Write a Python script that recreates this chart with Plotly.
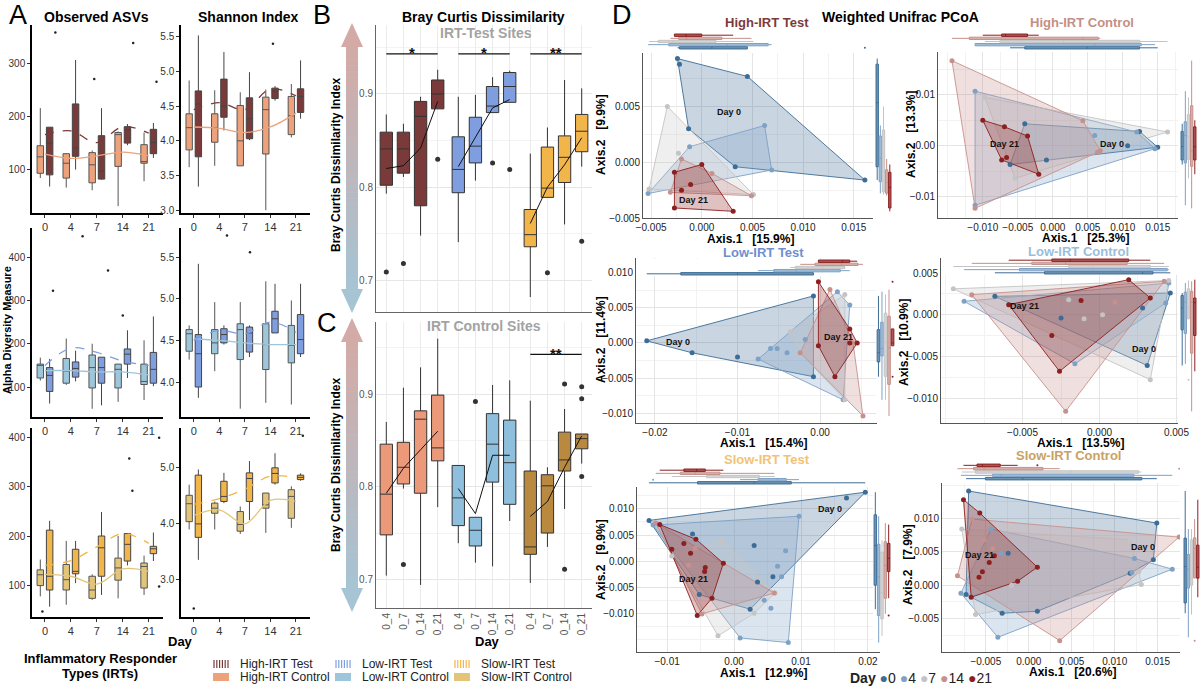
import plotly.graph_objects as go

W, H = 1200, 689
FONT = 'Liberation Sans'

# ---------------- panel A : alpha diversity (box stats) ----------------
days = ['0', '4', '7', '14', '21']

obs_high_ctrl = dict(q1=[92, 83, 74, 105, 111], med=[123, 111, 108, 165, 114], q3=[144, 129, 131, 169, 146],
                     lo=[83, 65, 60, 30, 77], hi=[215, 130, 135, 171, 169])
obs_high_test = dict(q1=[89, 124, 81, 149, 129], med=[149, 140, 96, 174, 150], q3=[179, 223, 163, 180, 175],
                     lo=[67, 99, 80, 145, 121], hi=[179, 306, 215, 185, 187])
sha_high_ctrl = dict(q1=[3.87, 3.98, 3.64, 3.81, 4.09], med=[4.19, 4.19, 4.0, 4.45, 4.36], q3=[4.39, 4.39, 4.51, 4.63, 4.64],
                     lo=[3.62, 3.64, 3.64, 3.0, 4.05], hi=[4.87, 4.73, 4.7, 4.74, 4.82])
sha_high_test = dict(q1=[3.77, 4.34, 4.03, 4.61, 4.41], med=[4.53, 4.5, 4.32, 4.72, 4.64], q3=[4.72, 4.89, 4.62, 4.76, 4.75],
                     lo=[3.34, 4.15, 4.01, 4.58, 4.32], hi=[5.52, 5.28, 4.99, 4.79, 5.16])
obs_low_ctrl = dict(q1=[121, 109, 98, 98, 106], med=[150, 137, 145, 141, 113], q3=[153, 166, 174, 153, 153],
                    lo=[115, 105, 50, 66, 70], hi=[168, 212, 200, 153, 208])
obs_low_test = dict(q1=[90, 123, 109, 153, 109], med=[127, 143, 145, 176, 141], q3=[145, 158, 169, 188, 180],
                    lo=[62, 113, 58, 121, 102], hi=[165, 184, 169, 231, 263])
sha_low_ctrl = dict(q1=[4.37, 4.34, 4.27, 4.15, 4.23], med=[4.58, 4.47, 4.63, 4.45, 4.44], q3=[4.63, 4.63, 4.70, 4.70, 4.68],
                    lo=[4.27, 4.13, 3.68, 3.75, 3.73], hi=[4.68, 4.96, 4.96, 5.21, 4.98])
sha_low_test = dict(q1=[3.94, 4.47, 4.36, 4.59, 4.34], med=[4.34, 4.57, 4.59, 4.76, 4.51], q3=[4.57, 4.64, 4.66, 4.85, 4.81],
                    lo=[3.81, 4.45, 4.30, 4.59, 4.3], hi=[5.42, 4.68, 4.68, 5.18, 5.18])
obs_slow_ctrl = dict(q1=[99, 90, 73, 110, 94], med=[121, 111, 90, 135, 138], q3=[131, 142, 118, 155, 145],
                     lo=[77, 60, 70, 73, 80], hi=[152, 190, 122, 200, 160])
obs_slow_test = dict(q1=[90, 123, 118, 149, 164], med=[118, 128, 176, 183, 174], q3=[212, 173, 200, 205, 179],
                     lo=[56, 104, 80, 140, 149], hi=[231, 190, 249, 205, 207])
sha_slow_ctrl = dict(q1=[4.04, 4.19, 3.87, 4.28, 4.10], med=[4.36, 4.28, 3.99, 4.34, 4.49], q3=[4.51, 4.37, 4.22, 4.55, 4.61],
                     lo=[3.90, 3.90, 3.82, 3.84, 3.93], hi=[4.70, 4.40, 4.31, 4.55, 4.67])
sha_slow_test = dict(q1=[3.76, 4.40, 4.40, 4.73, 4.79], med=[4.0, 4.49, 4.81, 4.90, 4.83], q3=[4.87, 4.76, 4.91, 5.0, 4.87],
                     lo=[3.36, 4.37, 4.07, 4.70, 4.77], hi=[4.97, 4.91, 5.12, 5.26, 4.9])

# smoothed trends (control solid, test dashed)
trend_obs_high = ([128, 120, 125, 132, 125], [165, 172, 150, 180, 168])
trend_sha_high = ([4.2, 4.18, 4.12, 4.2, 4.4], [4.45, 4.55, 4.45, 4.75, 4.65])
trend_obs_low = ([138, 138, 135, 135, 128], [150, 190, 180, 160, 150])
trend_sha_low = ([4.52, 4.5, 4.47, 4.45, 4.45], [4.5, 4.62, 4.58, 4.72, 4.6])
trend_obs_slow = ([122, 118, 102, 133, 128], [140, 150, 178, 205, 185])
trend_sha_slow = ([4.15, 4.25, 4.0, 4.42, 4.4], [4.35, 4.45, 4.62, 4.85, 4.82])

# far points (day position, value)
pts_obs_high = ([0.4, 1.9, 3.4, 4.3], [358, 270, 338, 265])
pts_sha_high = ([3.1], [5.4])
pts_obs_low = ([1.45, 2.43, 0.31, 3.0], [448, 369, 322, 265])
pts_sha_low = ([1.3, 2.2], [5.76, 5.56])
pts_obs_slow = ([-0.1, 3.25, 3.37, 4.4, 4.4], [46, 358, 292, 400, 97])
pts_sha_slow = ([0.0, 4.27], [2.49, 5.57])

# ---------------- panels B / C : Bray Curtis ----------------
bc_labels = ['0_4', '0_7', '0_14', '0_21']

bc_high_test = dict(q1=[0.802, 0.815, 0.780, 0.884], med=[0.841, 0.841, 0.876, 0.900], q3=[0.859, 0.859, 0.892, 0.915],
                    lo=[0.793, 0.811, 0.748, 0.884], hi=[0.878, 0.868, 0.897, 0.926], trend=[0.820, 0.823, 0.842, 0.892])
bc_low_test = dict(q1=[0.794, 0.826, 0.880, 0.891], med=[0.819, 0.844, 0.887, 0.908], q3=[0.854, 0.875, 0.908, 0.923],
                   lo=[0.741, 0.807, 0.880, 0.891], hi=[0.897, 0.899, 0.918, 0.925], trend=[0.822, 0.853, 0.885, 0.894])
bc_slow_test = dict(q1=[0.736, 0.789, 0.805, 0.838], med=[0.749, 0.799, 0.832, 0.860], q3=[0.776, 0.843, 0.855, 0.878],
                    lo=[0.682, 0.789, 0.760, 0.822], hi=[0.836, 0.864, 0.915, 0.906], trend=[0.761, 0.800, 0.824, 0.853])
bc_high_ctrl = dict(q1=[0.748, 0.803, 0.793, 0.828], med=[0.792, 0.821, 0.873, 0.842], q3=[0.846, 0.848, 0.882, 0.899],
                    lo=[0.704, 0.798, 0.694, 0.778], hi=[0.870, 0.907, 0.929, 0.960], trend=[0.793, 0.820, 0.840, 0.860])
bc_low_ctrl = dict(q1=[0.758, 0.736, 0.805, 0.781], med=[0.788, 0.753, 0.846, 0.826], q3=[0.823, 0.767, 0.879, 0.872],
                   lo=[0.739, 0.718, 0.714, 0.763], hi=[0.823, 0.767, 0.910, 0.915], trend=[0.798, 0.771, 0.834, 0.834])
bc_slow_ctrl = dict(q1=[0.727, 0.750, 0.817, 0.841], med=[0.735, 0.801, 0.829, 0.852], q3=[0.817, 0.813, 0.859, 0.857],
                    lo=[0.696, 0.735, 0.776, 0.825], hi=[0.893, 0.821, 0.884, 0.857], trend=[0.768, 0.784, 0.821, 0.855])

# outliers: (index in group, value)
bc_out_test = [([0, 1, 3], [0.709, 0.718, 0.830]), ([2, 3], [0.826, 0.819]), ([1, 3], [0.708, 0.742])]
bc_out_ctrl = [([1], [0.716]), ([1], [0.892]), ([2, 2, 3, 3, 3], [0.711, 0.911, 0.908, 0.895, 0.811])]

# ---------------- panel D : weighted unifrac PCoA (per day: 0, 4, 7, 14, 21) ----------------
pcoa_days = ['0', '4', '7', '14', '21']

ht_x = [[-0.0024, -0.0022, 0.0045, 0.0161, 0.0033, -0.0013],
        [-0.0053, -0.0012, 0.0062, 0.0069],
        [-0.0034, -0.0052, 0.0051, -0.0023],
        [-0.0020, -0.0031, 0.0049, 0.0010, -0.0015],
        [-0.0027, 0.0000, 0.0031, -0.0027, -0.0011, -0.0020]]
ht_y = [[0.0093, 0.0088, 0.0077, -0.0016, -0.0004, 0.0030],
        [-0.0028, 0.0014, 0.0033, -0.0007],
        [0.0050, -0.0024, -0.0029, 0.0008],
        [0.0003, -0.0027, -0.0030, -0.0010, -0.0018],
        [-0.0009, -0.0002, -0.0044, -0.0041, -0.0020, -0.0025]]

hc_x = [[-0.0040, 0.0124, 0.0150, -0.0009, -0.0061, 0.0107],
        [-0.0111, 0.0146, -0.0111, 0.0120, 0.0060],
        [-0.0097, 0.0164, -0.0054, 0.0085],
        [-0.0144, 0.0043, 0.0064, -0.0111, 0.0068],
        [-0.0100, -0.0069, -0.0036, -0.0020, -0.0073, -0.0066]]
hc_y = [[0.0043, 0.0028, -0.0003, -0.0028, -0.0037, 0.0000],
        [0.0107, -0.0006, -0.0117, 0.0027, 0.0020],
        [0.0095, 0.0027, -0.0064, 0.0010],
        [0.0167, 0.0049, -0.0013, -0.0123, -0.0010],
        [0.0050, 0.0037, 0.0019, -0.0056, -0.0028, -0.0023]]

lt_x = [[-0.0210, -0.0008, -0.0008, -0.0155, -0.0100],
        [-0.0075, 0.0021, 0.0036, 0.0028, -0.0060, -0.0052, -0.0040, -0.0018],
        [-0.0036, 0.0030, 0.0030, -0.0024],
        [-0.0024, 0.0012, 0.0052, 0.0040],
        [-0.0002, 0.0045, 0.0018, -0.0002, 0.0036, 0.0036]]
lt_y = [[0.0003, 0.0067, -0.0048, -0.0014, -0.0020],
        [-0.0023, 0.0073, 0.0054, -0.0081, -0.0008, -0.0008, -0.0014, 0.0005],
        [0.0016, 0.0069, -0.0081, -0.0014],
        [-0.0014, 0.0076, -0.0104, 0.0000],
        [0.0087, 0.0000, -0.0048, -0.0004, 0.0020, 0.0000]]

lc_x = [[-0.0068, 0.0046, 0.0031, -0.0025, 0.0028],
        [-0.0088, 0.0045, 0.0043, -0.0016],
        [-0.0095, 0.0045, 0.0033, -0.0020, -0.0010, 0.0002],
        [-0.0083, 0.0042, -0.0022, -0.0031, 0.0010],
        [-0.0059, 0.0019, 0.0033, -0.0026, -0.0012, -0.0031]]
lc_y = [[0.0022, 0.0026, -0.0061, -0.0004, 0.0008],
        [0.0016, 0.0038, 0.0014, -0.0059],
        [0.0031, 0.0041, -0.0078, 0.0018, -0.0005, 0.0000],
        [0.0024, 0.0040, -0.0116, -0.0023, 0.0015],
        [0.0012, 0.0042, 0.0020, -0.0068, 0.0017, -0.0025]]

st_x = [[-0.0127, 0.0196, 0.0024, -0.0052, 0.0168, 0.0058, 0.0035, 0.0030, -0.0062],
        [-0.0121, 0.0097, 0.0081, 0.0009, 0.0077, 0.0065, 0.0071, 0.0055, 0.0045],
        [-0.0093, -0.0018, 0.0061, -0.0024, 0.0030],
        [-0.0117, -0.0058, 0.0060, -0.0048, -0.0068],
        [-0.0111, -0.0057, -0.0016, -0.0033, -0.0055, -0.0093, -0.0075, -0.0043, -0.0044, -0.0065]]
st_y = [[0.0078, 0.0132, -0.0092, -0.0064, 0.0121, -0.0030, -0.0040, 0.0030, 0.0052],
        [0.0069, 0.0086, -0.0156, -0.0147, 0.0020, -0.0010, -0.0030, -0.0090, -0.0075],
        [0.0010, 0.0040, -0.0061, -0.0143, -0.0100],
        [0.0073, 0.0025, -0.0061, -0.0101, -0.0008],
        [0.0070, 0.0042, -0.0004, -0.0071, -0.0104, 0.0023, 0.0034, -0.0012, -0.0020, 0.0015]]

sc_x = [[-0.0070, 0.0149, 0.0145, 0.0010, -0.0031, -0.0073, 0.0118, -0.0024],
        [-0.0079, -0.0044, 0.0167, -0.0036, 0.0120, 0.0123, -0.0032],
        [-0.0078, 0.0118, 0.0131, -0.0062, -0.0020, 0.0128],
        [-0.0083, -0.0066, 0.0175, 0.0036, -0.0052, -0.0042, -0.0059],
        [-0.0076, -0.0057, 0.0010, -0.0013, -0.0067, -0.0040, -0.0046, -0.0054, -0.0058]]
sc_y = [[0.0141, 0.0093, 0.0038, -0.0039, -0.0042, -0.0014, 0.0018, 0.0048],
        [-0.0012, 0.0084, 0.0024, -0.0078, 0.0019, 0.0040, 0.0048],
        [0.0084, 0.0068, 0.0001, -0.0044, 0.0000, 0.0020],
        [0.0014, 0.0099, 0.0072, -0.0083, 0.0068, 0.0055, 0.0010],
        [0.0128, 0.0108, 0.0027, 0.0006, -0.0018, 0.0044, 0.0034, 0.0020, 0.0012]]

# ---------------- styling ----------------
C_HIGH_TEST = '#7b3a3a'
C_HIGH_CTRL = '#eea27c'
C_LOW_TEST = '#7f9ee0'
C_LOW_CTRL = '#9ec6da'
C_SLOW_TEST = '#f2b54a'
C_SLOW_CTRL = '#e3c57a'
C_BC_HIGH_CTRL = '#eb9978'
C_BC_LOW_CTRL = '#8ebfdc'
C_BC_SLOW_CTRL = '#b8893f'
DAY_COLORS = ['#3d6d96', '#7ea1c6', '#c4c4c4', '#c6918c', '#8c1f1f']
DAY_RGB = [(61, 109, 150), (126, 161, 198), (196, 196, 196), (198, 145, 140), (140, 31, 31)]

fig = go.Figure()
layout_axes = {}
annotations = []
shapes = []


def dx(a, b):
    return [a / W, b / W]


def dy(top, bottom):
    return [1 - bottom / H, 1 - top / H]


def refs(n):
    return ('x' if n == 1 else 'x%d' % n), ('y' if n == 1 else 'y%d' % n)


def add_axes(n, xdom, ydom, xopt, yopt):
    xr, yr = refs(n)
    layout_axes['xaxis' if n == 1 else 'xaxis%d' % n] = dict(domain=dx(*xdom), anchor=yr, automargin=False, **xopt)
    layout_axes['yaxis' if n == 1 else 'yaxis%d' % n] = dict(domain=dy(*ydom), anchor=xr, automargin=False, **yopt)
    return xr, yr


def note(text, px, py, size=12, color='#000', angle=0, xanchor='center', yanchor='middle'):
    annotations.append(dict(text=text, x=px / W, y=1 - py / H, xref='paper', yref='paper', showarrow=False,
                            font=dict(size=size, color=color, family=FONT), textangle=angle,
                            xanchor=xanchor, yanchor=yanchor))


def add_box(stats, pos, fill, line, xr, yr, width):
    fig.add_trace(go.Box(x=pos, q1=stats['q1'], median=stats['med'], q3=stats['q3'],
                         lowerfence=stats['lo'], upperfence=stats['hi'], fillcolor=fill,
                         line=dict(color=line, width=1), whiskerwidth=0, width=width,
                         boxpoints=False, xaxis=xr, yaxis=yr, showlegend=False, hoverinfo='skip'))


def a_x():
    return dict(range=[-0.5, 4.55], tickvals=list(range(5)), ticktext=days, showline=True,
                linecolor='black', linewidth=1.5, ticks='outside', ticklen=3, tickcolor='#333',
                showgrid=False, zeroline=False, tickfont=dict(size=11, color='#333', family=FONT))


def a_y(rng, vals, fmt):
    return dict(range=rng, tickvals=vals, tickformat=fmt, showline=True, linecolor='black', linewidth=1.5,
                ticks='outside', ticklen=3, tickcolor='#333', showgrid=False, zeroline=False,
                tickfont=dict(size=10, color='#333', family=FONT))


# ---------------- panel A ----------------
a_rows = [
    ((25, 213), obs_high_ctrl, obs_high_test, sha_high_ctrl, sha_high_test, C_HIGH_CTRL, C_HIGH_TEST,
     trend_obs_high, trend_sha_high, pts_obs_high, pts_sha_high,
     ([17, 372], [100, 200, 300], 'd'), ([2.96, 5.67], [3.0, 3.5, 4.0, 4.5, 5.0, 5.5], '.1f')),
    ((228, 417), obs_low_ctrl, obs_low_test, sha_low_ctrl, sha_low_test, C_LOW_CTRL, C_LOW_TEST,
     trend_obs_low, trend_sha_low, pts_obs_low, pts_sha_low,
     ([31, 467], [100, 200, 300, 400], 'd'), ([3.58, 5.85], [4.0, 4.5, 5.0, 5.5], '.1f')),
    ((428, 617), obs_slow_ctrl, obs_slow_test, sha_slow_ctrl, sha_slow_test, C_SLOW_CTRL, C_SLOW_TEST,
     trend_obs_slow, trend_sha_slow, pts_obs_slow, pts_sha_slow,
     ([35, 420], [100, 200, 300, 400], 'd'), ([2.34, 5.71], [3.0, 4.0, 5.0], '.1f')),
]

n = 0
for ydom, oc, ot, sc, stt, cc, ct, tro, trs, po, ps, yo, ys in a_rows:
    for col, (ctrl, test, trend, pts, yspec) in enumerate([(oc, ot, tro, po, yo), (sc, stt, trs, ps, ys)]):
        n += 1
        xdom = (32, 163) if col == 0 else (181, 310)
        xr, yr = add_axes(n, xdom, ydom, a_x(), a_y(*yspec))
        idx = list(range(5))
        add_box(ctrl, [i - 0.18 for i in idx], cc, '#555', xr, yr, 0.25)
        add_box(test, [i + 0.18 for i in idx], ct, '#444', xr, yr, 0.25)
        fig.add_trace(go.Scatter(x=idx, y=trend[0], mode='lines', line=dict(color=cc, width=1.3, shape='spline'),
                                 xaxis=xr, yaxis=yr, showlegend=False, hoverinfo='skip'))
        fig.add_trace(go.Scatter(x=idx, y=trend[1], mode='lines',
                                 line=dict(color=ct, width=1.3, dash='dash', shape='spline'),
                                 xaxis=xr, yaxis=yr, showlegend=False, hoverinfo='skip'))
        fig.add_trace(go.Scatter(x=pts[0], y=pts[1], mode='markers', marker=dict(color='#222', size=2.5),
                                 xaxis=xr, yaxis=yr, showlegend=False, hoverinfo='skip'))

# ---------------- panels B and C ----------------
group_offsets = [0, 4.2, 8.4]
bc_pos = [g + i for g in group_offsets for i in range(4)]


def bc_x(show_labels):
    return dict(range=[-0.6, 12.0], tickvals=bc_pos, ticktext=bc_labels * 3, showticklabels=show_labels,
                tickangle=-90, showgrid=True, gridcolor='#ebebeb', showline=True, linecolor='#666',
                zeroline=False, ticks='', tickfont=dict(size=10, color='#555', family=FONT))


def bc_y(rng):
    return dict(range=rng, tick0=0.7, dtick=0.1, tickformat='.1f', showgrid=True, gridcolor='#e6e6e6',
                minor=dict(dtick=0.05, showgrid=True, gridcolor='#f3f3f3'), showline=True, linecolor='#666',
                zeroline=False, ticks='', tickfont=dict(size=10, color='#555', family=FONT))


bc_panels = [
    (7, (25, 312), [0.666, 0.974], False, [bc_high_test, bc_low_test, bc_slow_test],
     [C_HIGH_TEST, C_LOW_TEST, C_SLOW_TEST], bc_out_test, [('*', 0), ('*', 1), ('**', 2)]),
    (8, (322, 608), [0.669, 0.978], True, [bc_high_ctrl, bc_low_ctrl, bc_slow_ctrl],
     [C_BC_HIGH_CTRL, C_BC_LOW_CTRL, C_BC_SLOW_CTRL], bc_out_ctrl, [('**', 2)]),
]

for n, ydom, rng, labels, groups, colors, outs, sig in bc_panels:
    xr, yr = add_axes(n, (376, 592), ydom, bc_x(labels), bc_y(rng))
    for g, (stats, color, out) in enumerate(zip(groups, colors, outs)):
        pos = [group_offsets[g] + i for i in range(4)]
        add_box(stats, pos, color, '#333', xr, yr, 0.72)
        fig.add_trace(go.Scatter(x=pos, y=stats['trend'], mode='lines', line=dict(color='#111', width=1),
                                 xaxis=xr, yaxis=yr, showlegend=False, hoverinfo='skip'))
        fig.add_trace(go.Scatter(x=[group_offsets[g] + i for i in out[0]], y=out[1], mode='markers',
                                 marker=dict(color='#333', size=5), xaxis=xr, yaxis=yr,
                                 showlegend=False, hoverinfo='skip'))
    for star, g in sig:
        x0, x1 = group_offsets[g], group_offsets[g] + 3
        fig.add_trace(go.Scatter(x=[x0, x1], y=[0.943, 0.943], mode='lines', line=dict(color='#111', width=1.3),
                                 xaxis=xr, yaxis=yr, showlegend=False, hoverinfo='skip'))
        annotations.append(dict(text='<b>%s</b>' % star, x=(x0 + x1) / 2, y=0.944, xref=xr, yref=yr,
                                showarrow=False, yanchor='middle', font=dict(size=15, color='#111', family=FONT)))

# gradient arrows beside B and C
ARROW_TOP = (211, 170, 165)
ARROW_BOT = (166, 196, 212)


def mix(t):
    return 'rgb(%d,%d,%d)' % tuple(round(a + (b - a) * t) for a, b in zip(ARROW_TOP, ARROW_BOT))


def arrow(top, bottom, cx=352, half=6, head=24, head_half=11):
    steps = 40
    y0, y1 = top + head, bottom - head
    h = (y1 - y0) / steps
    for i in range(steps):
        ya = y0 + i * h
        shapes.append(dict(type='rect', xref='paper', yref='paper', x0=(cx - half) / W, x1=(cx + half) / W,
                           y0=1 - (ya + h + 0.6) / H, y1=1 - ya / H, fillcolor=mix((i + 0.5) / steps),
                           line=dict(width=0), layer='below'))
    for tip, base, t in ((top, y0, 0.0), (bottom, y1, 1.0)):
        path = 'M %f %f L %f %f L %f %f Z' % (cx / W, 1 - tip / H, (cx - head_half) / W, 1 - base / H,
                                              (cx + head_half) / W, 1 - base / H)
        shapes.append(dict(type='path', xref='paper', yref='paper', path=path, fillcolor=mix(t),
                           line=dict(width=0), layer='below'))


arrow(23, 313)
arrow(318, 612)

# ---------------- panel D ----------------


def hull(xs, ys):
    pts = sorted(set(zip(xs, ys)))
    if len(pts) < 3:
        return pts

    def cross(o, a, b):
        return (a[0] - o[0]) * (b[1] - o[1]) - (a[1] - o[1]) * (b[0] - o[0])

    lower, upper = [], []
    for p in pts:
        while len(lower) >= 2 and cross(lower[-2], lower[-1], p) <= 0:
            lower.pop()
        lower.append(p)
    for p in reversed(pts):
        while len(upper) >= 2 and cross(upper[-2], upper[-1], p) <= 0:
            upper.pop()
        upper.append(p)
    h = lower[:-1] + upper[:-1]
    return h + [h[0]]


pcoa_panels = [
    dict(title='High-IRT Test', tcolor='#7b3b3b', xs=ht_x, ys=ht_y, xr=[-0.0058, 0.0169], yr=[-0.0050, 0.0098],
         xt=[-0.005, 0, 0.005, 0.010, 0.015], yt=[-0.005, 0, 0.005], xd=0.005, yd=0.005, xf='.3f', yf='.3f',
         main=((643, 873), (53, 218)), top=(33, 50), right=(875, 892),
         ax1='[15.9%]', ax2='[9.9%]', tpos=(767, 23), a1=(750, 239), a2=(601, 135),
         lab=[('Day 0', 0.0027, 0.0045), ('Day 21', -0.0008, -0.0034)]),
    dict(title='High-IRT Control', tcolor='#c48f86', xs=hc_x, ys=hc_y, xr=[-0.0164, 0.0179], yr=[-0.0142, 0.0184],
         xt=[-0.010, -0.005, 0, 0.005, 0.010, 0.015], yt=[-0.01, 0, 0.01], xd=0.005, yd=0.01, xf='.3f', yf='.2f',
         main=((938, 1178), (52, 218)), top=(33, 50), right=(1180, 1197),
         ax1='[25.3%]', ax2='[13.3%]', tpos=(1082, 23), a1=(1085, 238), a2=(911, 135),
         lab=[('Day 21', -0.0069, 0.0003), ('Day 0', 0.0084, 0.0003)]),
    dict(title='Low-IRT Test', tcolor='#6f8fd0', xs=lt_x, ys=lt_y, xr=[-0.0223, 0.0069], yr=[-0.0114, 0.0121],
         xt=[-0.02, -0.01, 0.0], yt=[-0.010, -0.005, 0, 0.005, 0.010], xd=0.01, yd=0.005, xf='.2f', yf='.3f',
         main=((636, 877), (258, 423)), top=(259, 276), right=(876, 895),
         ax1='[15.4%]', ax2='[11.4%]', tpos=(763, 253), a1=(763, 443), a2=(601, 340),
         lab=[('Day 0', -0.0172, 0.0001), ('Day 21', 0.0022, 0.0008)]),
    dict(title='Low-IRT Control', tcolor='#9abedb', xs=lc_x, ys=lc_y, xr=[-0.0103, 0.0051], yr=[-0.0130, 0.0068],
         xt=[-0.005, 0, 0.005], yt=[-0.010, -0.005, 0, 0.005], xd=0.005, yd=0.005, xf='.3f', yf='.3f',
         main=((941, 1178), (258, 423)), top=(258, 275), right=(1180, 1197),
         ax1='[13.5%]', ax2='[10.9%]', tpos=(1078, 252), a1=(1080, 443), a2=(904, 343),
         lab=[('Day 21', -0.0049, 0.0011), ('Day 0', 0.0029, -0.0041)]),
    dict(title='Slow-IRT Test', tcolor='#f2c375', xs=st_x, ys=st_y, xr=[-0.0145, 0.0218], yr=[-0.0174, 0.0142],
         xt=[-0.01, 0, 0.01, 0.02], yt=[-0.010, -0.005, 0, 0.005, 0.010], xd=0.01, yd=0.005, xf='.2f', yf='.3f',
         main=((637, 880), (487, 652)), top=(468, 485), right=(873, 891),
         ax1='[12.9%]', ax2='[9.9%]', tpos=(767, 459), a1=(763, 673), a2=(601, 560),
         lab=[('Day 0', 0.0143, 0.0099), ('Day 21', -0.0060, -0.0035)]),
    dict(title='Slow-IRT Control', tcolor='#c9a263', xs=sc_x, ys=sc_y, xr=[-0.0101, 0.0176], yr=[-0.0100, 0.0153],
         xt=[-0.005, 0, 0.005, 0.010, 0.015], yt=[-0.005, 0, 0.005, 0.010], xd=0.005, yd=0.005, xf='.3f', yf='.3f',
         main=((942, 1180), (483, 652)), top=(463, 481), right=(1183, 1200),
         ax1='[20.6%]', ax2='[7.9%]', tpos=(1068, 455), a1=(1072, 672), a2=(908, 565),
         lab=[('Day 21', -0.0057, 0.0045), ('Day 0', 0.0133, 0.0057)]),
]

hidden = dict(visible=False, showgrid=False, zeroline=False)
for k, p in enumerate(pcoa_panels):
    nm, nt, nr = 9 + k, 15 + k, 21 + k
    d_tick = dict(size=10, color='#222', family=FONT)
    xopt = dict(range=p['xr'], tickvals=p['xt'], tickformat=p['xf'], tickangle=0, showgrid=True,
                gridcolor='#e4e4e4', minor=dict(tick0=0, dtick=p['xd'] / 2, showgrid=True, gridcolor='#f2f2f2'),
                showline=True, linecolor='#555', zeroline=False, ticks='', tickfont=d_tick)
    yopt = dict(range=p['yr'], tickvals=p['yt'], tickformat=p['yf'], showgrid=True, gridcolor='#e4e4e4',
                minor=dict(tick0=0, dtick=p['yd'] / 2, showgrid=True, gridcolor='#f2f2f2'), showline=True,
                linecolor='#555', zeroline=False, ticks='', tickfont=d_tick)
    xm, ym = add_axes(nm, p['main'][0], p['main'][1], xopt, yopt)
    mxkey = 'x%d' % nm
    mykey = 'y%d' % nm
    xt, yt = add_axes(nt, p['main'][0], p['top'], dict(hidden, matches=mxkey), dict(hidden, range=[-0.7, 4.7]))
    xrr, yrr = add_axes(nr, p['right'], p['main'][1], dict(hidden, range=[-0.7, 4.7]), dict(hidden, matches=mykey))

    for d in range(5):
        xs, ys = p['xs'][d], p['ys'][d]
        r, g, b = DAY_RGB[d]
        hp = hull(xs, ys)
        fig.add_trace(go.Scatter(x=[q[0] for q in hp], y=[q[1] for q in hp], mode='lines', fill='toself',
                                 fillcolor='rgba(%d,%d,%d,0.28)' % (r, g, b),
                                 line=dict(color='rgba(%d,%d,%d,0.9)' % (r, g, b), width=1),
                                 xaxis=xm, yaxis=ym, showlegend=False, hoverinfo='skip'))
    for d in range(5):
        xs, ys = p['xs'][d], p['ys'][d]
        fig.add_trace(go.Scatter(x=xs, y=ys, mode='markers', marker=dict(color=DAY_COLORS[d], size=5),
                                 xaxis=xm, yaxis=ym, showlegend=False, hoverinfo='skip'))
        r, g, b = DAY_RGB[d]
        fig.add_trace(go.Box(x=xs, y=[d] * len(xs), orientation='h', width=0.75,
                             fillcolor='rgba(%d,%d,%d,0.75)' % (r, g, b), line=dict(color=DAY_COLORS[d], width=1),
                             whiskerwidth=0, boxpoints='outliers', marker=dict(size=2, color=DAY_COLORS[d]),
                             xaxis=xt, yaxis=yt, showlegend=False, hoverinfo='skip'))
        fig.add_trace(go.Box(y=ys, x=[d] * len(ys), width=0.75,
                             fillcolor='rgba(%d,%d,%d,0.75)' % (r, g, b), line=dict(color=DAY_COLORS[d], width=1),
                             whiskerwidth=0, boxpoints='outliers', marker=dict(size=2, color=DAY_COLORS[d]),
                             xaxis=xrr, yaxis=yrr, showlegend=False, hoverinfo='skip'))
    for txt, lx, ly in p['lab']:
        annotations.append(dict(text='<b>%s</b>' % txt, x=lx, y=ly, xref=xm, yref=ym, showarrow=False,
                                font=dict(size=9, color='#111', family=FONT)))
    note('<b>%s</b>' % p['title'], p['tpos'][0], p['tpos'][1], 13, p['tcolor'])
    note('<b>Axis.1   %s</b>' % p['ax1'], p['a1'][0], p['a1'][1], 12)
    note('<b>Axis.2   %s</b>' % p['ax2'], p['a2'][0], p['a2'][1], 12, angle=-90)

# ---------------- text ----------------
note('A', 18, 15, 27)
note('B', 322, 15, 27)
note('C', 327, 323, 27)
note('D', 622, 15, 27)
note('<b>Observed ASVs</b>', 97, 17, 14)
note('<b>Shannon Index</b>', 248, 17, 14)
note('<b>Alpha Diversity Measure</b>', 7, 330, 11, angle=-90)
note('<b>Day</b>', 180, 641, 13)
note('<b>Inflammatory Responder</b>', 100, 658, 13)
note('<b>Types (IRTs)</b>', 100, 673, 13)
note('<b>Bray Curtis Dissimilarity</b>', 483, 17, 14)
note('<b>IRT-Test Sites</b>', 486, 33, 14, '#a3a3a3')
note('<b>IRT Control Sites</b>', 484, 326, 14, '#a3a3a3')
note('<b>Bray Curtis Dissimilarity Index</b>', 336, 165, 12, angle=-90)
note('<b>Bray Curtis Dissimilarity Index</b>', 336, 465, 12, angle=-90)
note('<b>Day</b>', 487, 641, 13)
note('<b>Weighted Unifrac PCoA</b>', 900, 17, 14)

# IRT legend
irt_legend = [('High-IRT Test', C_HIGH_TEST, True, 213, 664), ('High-IRT Control', C_HIGH_CTRL, False, 213, 677),
              ('Low-IRT Test', C_LOW_TEST, True, 335, 664), ('Low-IRT Control', C_LOW_CTRL, False, 335, 677),
              ('Slow-IRT Test', C_SLOW_TEST, True, 454, 664), ('Slow-IRT Control', C_SLOW_CTRL, False, 454, 677)]
for label, color, hatched, sx, sy in irt_legend:
    if hatched:
        for j in range(6):
            xx = (sx + 1 + j * 2.8) / W
            shapes.append(dict(type='line', xref='paper', yref='paper', x0=xx, x1=xx, y0=1 - (sy + 4) / H,
                               y1=1 - (sy - 4) / H, line=dict(color=color, width=1.2)))
    else:
        shapes.append(dict(type='rect', xref='paper', yref='paper', x0=sx / W, x1=(sx + 16) / W,
                           y0=1 - (sy + 4) / H, y1=1 - (sy - 4) / H, fillcolor=color, line=dict(width=0)))
    note(label, sx + 25, sy, 12, '#222', xanchor='left')

# day legend
day_txt = '<b>Day</b> ' + ' '.join("<span style='color:%s'>●</span>%s" % (c, d)
                                    for c, d in zip(DAY_COLORS, pcoa_days))
note(day_txt, 848, 678, 14, '#222', xanchor='left')

fig.update_layout(width=W, height=H, margin=dict(l=0, r=0, t=0, b=0, pad=0, autoexpand=False),
                  paper_bgcolor='white', plot_bgcolor='white', showlegend=False, boxmode='overlay',
                  annotations=annotations, shapes=shapes, font=dict(family=FONT), **layout_axes)

# the page body has a default 8px margin; drop it so the figure sits at the window corner
fig.write_html('out.html', config={'displayModeBar': False},
               post_script="document.body.style.margin='0';document.body.style.overflow='hidden';")
